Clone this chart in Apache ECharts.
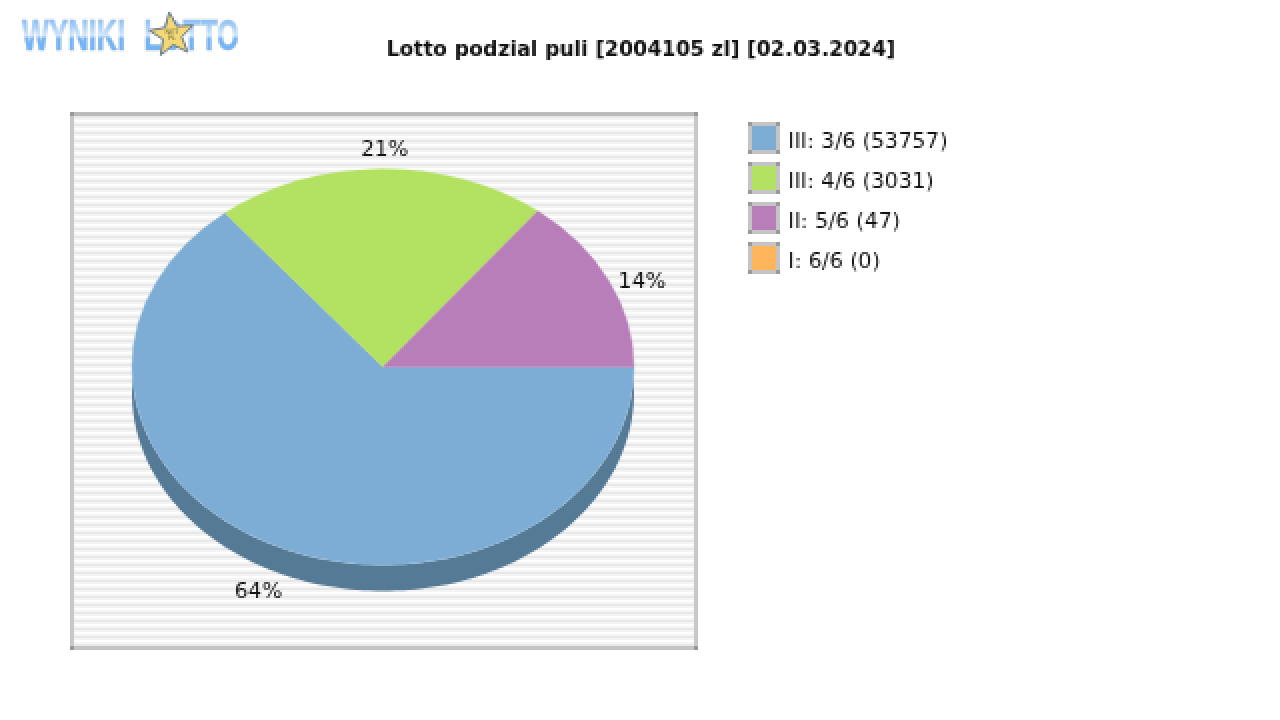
<!DOCTYPE html>
<html><head><meta charset="utf-8">
<style>
html,body{margin:0;padding:0;background:#fff}
#c{width:1280px;height:720px}
#c canvas{image-rendering:pixelated}
</style>
<script src="https://cdn.jsdelivr.net/npm/echarts@6/dist/echarts.min.js"></script>
</head><body><div id="c"></div>
<script>
const titleText = 'Lotto podzial puli [2004105 zl] [02.03.2024]';
const categories = ['III: 3/6 (53757)', 'III: 4/6 (3031)', 'II: 5/6 (47)', 'I: 6/6 (0)'];
const shares = [64.1, 21.4, 14.4, 0];
const colors = ['#7dadd4', '#b3e161', '#b87eba', '#ffb55c'];
const sideColors = ['#557a96', '#7d9d44', '#815883', '#b37f40'];

const CX = 383, CY = 367, RX = 251, RY = 198, DEPTH = 26;
const labelGap = [[36, 50], [36, 21], [36, 0], [36, 0]];
const labelNudge = [-1, 4, 1, 0];
const total = shares.reduce((a, b) => a + b, 0);
const FONT = '"DejaVu Sans"';

function sliceItem(i) {
  return function (params, api) {
    const v = api.value(0);
    if (!v) return { type: 'group', children: [] };
    const before = shares.slice(0, i).reduce((a, b) => a + b, 0);
    const a0 = before / total * Math.PI * 2;
    const a1 = (before + v) / total * Math.PI * 2;
    const children = [];
    const f0 = a0, f1 = Math.min(a1, Math.PI);
    if (f1 > f0) {
      const top = [], bottom = [];
      const n = 120;
      for (let k = 0; k <= n; k++) {
        const t = f0 + (f1 - f0) * k / n;
        const x = CX + RX * Math.cos(t), y = CY + RY * Math.sin(t);
        top.push([x, y]);
        bottom.unshift([x, y + DEPTH]);
      }
      children.push({ type: 'polygon', shape: { points: top.concat(bottom) }, style: { fill: sideColors[i] } });
    }
    children.push({
      type: 'group', x: CX, y: CY, scaleY: RY / RX,
      children: [{
        type: 'sector',
        shape: { cx: 0, cy: 0, r0: 0, r: RX, startAngle: a0, endAngle: a1, clockwise: true },
        style: { fill: colors[i], stroke: colors[i], lineWidth: 0.6 }
      }]
    });
    const mid = (a0 + a1) / 2;
    children.push({
      type: 'text',
      x: CX + (RX + labelGap[i][0]) * Math.cos(mid) + labelNudge[i],
      y: CY + (RY + labelGap[i][1]) * Math.sin(mid) + 2,
      style: { text: Math.round(v / total * 100) + '%', font: '21.5px ' + FONT, fill: '#111', align: 'center', verticalAlign: 'middle' }
    });
    return { type: 'group', children };
  };
}

const graphics = [];
const bandCols = ['#e8e8e8', '#f4f4f4', '#ffffff', '#f4f4f4'];
for (let y = 116, k = 0; y < 646; y += 2, k++) {
  graphics.push({ type: 'rect', z: -10, shape: { x: 74, y, width: 620, height: 2 }, style: { fill: bandCols[k % 4] } });
}
[[70, 112, 628, 4, '#bbbbbb'], [70, 646, 628, 4, '#c4c4c4'], [70, 112, 4, 538, '#c8c8c8'], [694, 112, 4, 538, '#c8c8c8']].forEach(r =>
  graphics.push({ type: 'rect', z: -9, shape: { x: r[0], y: r[1], width: r[2], height: r[3] }, style: { fill: r[4] } }));
[[70, 112], [694, 112], [70, 646], [694, 646]].forEach(r =>
  graphics.push({ type: 'rect', z: -8, shape: { x: r[0], y: r[1], width: 4, height: 4 }, style: { fill: '#999999' } }));
categories.forEach((c, i) => {
  [[748, 122], [776, 122], [748, 150], [776, 150]].forEach(p =>
    graphics.push({ type: 'rect', z: 20, shape: { x: p[0], y: p[1] + 40 * i, width: 4, height: 4 }, style: { fill: '#999999' } }));
});
function logoWord(text, x, sx) {
  graphics.push({ type: 'text', z: 5, x, y: 37, scaleX: sx, scaleY: 1,
    style: { text, font: 'bold 44px "Liberation Sans"', fill: '#72b4f6', stroke: '#a9b6c4', lineWidth: 1, align: 'left', verticalAlign: 'middle' } });
}
logoWord('WYNIKI', 22, 0.65);
logoWord('LOTTO', 144, 0.64);
graphics.push({ type: 'rect', z: 5.5, shape: { x: 18, y: 17, width: 228, height: 20 }, style: { fill: {
  type: 'linear', x: 0, y: 0, x2: 0, y2: 1, colorStops: [
    { offset: 0, color: 'rgba(255,255,255,0.05)' }, { offset: 1, color: 'rgba(255,255,255,0.72)' }] } } });
const star = [];
for (let k = 0; k < 10; k++) {
  const r = k % 2 ? 10 : 23, t = -Math.PI / 2 - 0.12 + k * Math.PI / 5;
  star.push([172 + r * Math.cos(t), 35 + r * Math.sin(t)]);
}
graphics.push({ type: 'polygon', z: 6, shape: { points: star }, style: { fill: '#f3d873', stroke: '#6f7f90', lineWidth: 2 } });
graphics.push({ type: 'text', z: 7, x: 172, y: 35, style: { text: 'NET\nPL', font: '7px ' + FONT, fill: '#665', align: 'center', verticalAlign: 'middle' } });

const chart = echarts.init(document.getElementById('c'), null, { devicePixelRatio: 0.5 });
chart.setOption({
  animation: false,
  backgroundColor: '#ffffff',
  title: { text: titleText, left: 636, top: 35, textAlign: 'center', textStyle: { fontFamily: FONT, fontWeight: 'bold', fontSize: 20.5, color: '#111' } },
  legend: {
    left: 748, top: 122, padding: 0, orient: 'vertical', itemWidth: 28, itemHeight: 28, itemGap: 8, icon: 'rect',
    selectedMode: false, data: categories,
    itemStyle: { borderColor: '#c4c4c4', borderWidth: 4 },
    formatter: name => '{a|' + name + '}',
    textStyle: { rich: { a: { fontFamily: FONT, fontSize: 21.5, color: '#111', padding: [8, 0, 0, 5] } } }
  },
  graphic: graphics,
  series: categories.map((name, i) => ({
    type: 'custom', name, coordinateSystem: 'none', silent: true,
    itemStyle: { color: colors[i] },
    data: [[shares[i]]],
    renderItem: sliceItem(i)
  }))
});
</script></body></html>
